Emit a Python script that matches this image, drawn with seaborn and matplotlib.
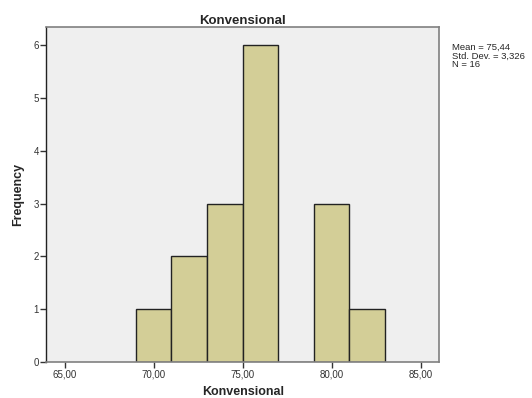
import numpy as np
import pandas as pd
import matplotlib.pyplot as plt
import seaborn as sns

# histogram bins
bin_edges = [69, 71, 73, 75, 77, 79, 81, 83]
bin_centers = [70, 72, 74, 76, 78, 80, 82]
counts = [1, 2, 3, 6, 0, 3, 1]
x_ticks = [65, 70, 75, 80, 85]
y_ticks = [0, 1, 2, 3, 4, 5, 6]
stats_text = ["Mean = 75,44", "Std. Dev. = 3,326", "N = 16"]

data = pd.DataFrame({"Konvensional": bin_centers, "count": counts})

sns.set_style("white", {"xtick.bottom": True, "ytick.left": True})
plt.rcParams['font.family'] = ['Liberation Sans', 'DejaVu Sans']

fig = plt.figure(figsize=(5.32, 3.98), dpi=100)
ax = fig.add_axes([46 / 532, 1 - 362.3 / 398, (439.3 - 46) / 532, (362.3 - 27.3) / 398])
ax.set_facecolor('#efefef')

sns.histplot(data=data, x="Konvensional", weights="count", bins=bin_edges,
             color='#d3ce97', edgecolor='#222222', linewidth=1.0, alpha=1, ax=ax)

ax.set_xlim(63.95, 86.05)
ax.set_ylim(0, 6.33)
ax.set_xticks(x_ticks)
ax.set_xticklabels(["{:.2f}".format(v).replace('.', ',') for v in x_ticks])
ax.set_yticks(y_ticks)
ax.tick_params(axis='both', which='major', bottom=True, left=True, direction='out',
               length=4, width=1, labelsize=7, labelcolor='#333333', color='#333333', pad=1)

for side in ['top', 'right', 'bottom']:
    ax.spines[side].set_color('#808080')
    ax.spines[side].set_linewidth(1.2)
ax.spines['left'].set_color('#222222')
ax.spines['left'].set_linewidth(1.0)

ax.set_title("Konvensional", fontsize=9.5, fontweight='bold', pad=2)
ax.set_xlabel("Konvensional", fontsize=9, fontweight='bold', labelpad=5)
ax.set_ylabel("Frequency", fontsize=9, fontweight='bold', labelpad=7)

fig.text(452 / 532, 1 - 43 / 398, "\n".join(stats_text), fontsize=6.8,
         va='top', ha='left', linespacing=0.95)

plt.savefig("out.png", dpi=100)
